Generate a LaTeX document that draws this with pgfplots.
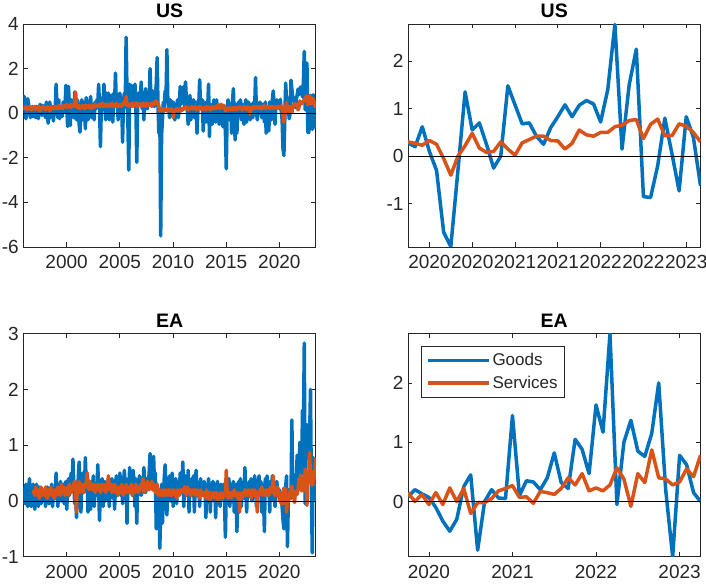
\documentclass[border=0pt]{standalone}
\usepackage{fontspec}
\setmainfont{Liberation Sans}
\usepackage{pgfplots}
\pgfplotsset{compat=1.18}
\definecolor{mblue}{rgb}{0,0.447,0.741}
\definecolor{morange}{rgb}{0.85,0.325,0.098}
\definecolor{axgray}{rgb}{0.15,0.15,0.15}
\pgfplotsset{
  panel/.style={
    scale only axis, width=292.5pt, height=223pt,
    axis line style={axgray, line width=0.7pt},
    tick style={axgray, line width=0.7pt},
    major tick length=4.5pt, tick align=inside,
    ticklabel style={font=\fontsize{19}{19}\selectfont, text=axgray},
    xticklabel style={yshift=-5pt},
    yticklabel style={xshift=-1pt},
    /pgf/number format/assume math mode=true,
    title style={font=\fontsize{19.5}{19.5}\bfseries\selectfont, yshift=-3.6pt},
    every axis plot/.append style={line width=3.5pt, line join=round},
  },
  gd/.style={mblue, line width=3.5pt},
  sv/.style={morange, line width=3.5pt},
  zl/.style={black, line width=0.8pt, forget plot},
}
\begin{document}
\begin{tikzpicture}
\useasboundingbox (0,0) rectangle (706pt,583pt);
% ---------------- US long ----------------
\begin{axis}[panel, at={(23.3pt,336pt)}, anchor=south west,
  title={US}, xmin=1995.93, xmax=2023.43, ymin=-6, ymax=4,
  xtick={2000,2005,2010,2015,2020}, xticklabels={2000,2005,2010,2015,2020},
  ytick={-6,-4,-2,0,2,4}, yticklabels={-6,-4,-2,0,2,4}]
\addplot[gd] table[row sep=\\, header=false, x expr=1995.93+\coordindex/12, y index=0] {
0.5\\0.75\\0.2\\-0.25\\0.3\\0.65\\0.4\\0.05\\-0.2\\0.1\\0.3\\-0.15\\
0.25\\0.1\\-0.2\\0.3\\0.15\\-0.25\\0.2\\0.4\\0.05\\-0.1\\0.35\\0.1\\
0.0\\-0.2\\0.5\\0.2\\-0.45\\0.3\\0.5\\-0.2\\0.1\\0.3\\-0.35\\0.2\\
0.15\\1.3\\0.4\\-0.2\\0.6\\-0.25\\0.3\\0.2\\-0.15\\0.5\\0.2\\0.05\\
1.25\\0.4\\-0.6\\1.2\\0.3\\-0.55\\0.6\\0.2\\0.1\\-0.2\\0.95\\0.3\\
-0.3\\0.6\\0.2\\-0.5\\-0.85\\0.2\\0.6\\-0.3\\0.1\\0.5\\-0.7\\0.7\\
0.3\\-0.3\\0.5\\0.2\\0.75\\-0.2\\0.3\\0.4\\-0.3\\0.5\\0.2\\0.6\\
0.4\\1.3\\0.3\\-1.5\\0.2\\0.7\\0.5\\1.3\\0.3\\-0.3\\0.9\\0.4\\
0.9\\-0.3\\0.5\\0.8\\0.2\\-0.4\\0.9\\0.5\\1.8\\0.3\\0.6\\-0.3\\
0.5\\0.9\\0.2\\0.6\\-1.3\\0.5\\0.9\\0.3\\3.4\\0.9\\-0.4\\-2.55\\
1.3\\0.4\\1.25\\0.3\\1.2\\0.5\\1.3\\0.4\\-2.2\\0.3\\0.9\\0.5\\
0.6\\1.4\\0.2\\0.9\\-0.3\\0.6\\1.1\\0.3\\0.2\\0.8\\0.4\\2.0\\
0.6\\0.3\\1.0\\0.4\\0.3\\0.8\\1.3\\2.5\\0.3\\-0.9\\0.2\\-5.5\\
-1.0\\-0.3\\0.5\\0.2\\1.0\\0.6\\2.85\\0.7\\0.3\\-0.2\\0.6\\0.3\\
0.2\\0.5\\0.4\\-0.3\\0.1\\0.2\\0.6\\-0.2\\0.3\\1.2\\0.4\\0.9\\
0.5\\1.2\\0.3\\1.4\\0.6\\0.2\\-0.5\\0.4\\0.8\\-0.3\\0.3\\0.5\\
0.6\\-0.2\\0.3\\0.5\\-0.9\\0.2\\0.4\\1.5\\0.2\\0.3\\0.6\\-0.8\\
0.5\\0.3\\-0.4\\0.5\\0.2\\1.3\\-1.05\\0.4\\0.3\\-0.5\\0.2\\0.6\\
0.3\\-0.4\\0.6\\0.2\\0.1\\-0.5\\0.3\\0.4\\0.0\\-0.6\\0.3\\-0.3\\
-0.8\\-2.5\\0.2\\0.6\\0.3\\-0.3\\0.4\\-0.9\\0.5\\1.1\\-0.2\\-1.2\\
0.4\\-0.9\\0.3\\0.5\\0.2\\0.6\\-0.3\\0.4\\0.2\\-0.5\\0.3\\0.6\\
-0.4\\0.3\\0.5\\0.2\\-0.3\\0.4\\0.3\\-0.2\\0.5\\0.2\\1.6\\0.1\\
-0.3\\0.4\\0.2\\0.5\\0.3\\-0.2\\0.4\\0.2\\-0.4\\0.5\\-0.9\\0.3\\
0.2\\-0.8\\0.5\\0.3\\-0.3\\0.6\\1.0\\0.2\\-0.5\\0.4\\0.6\\0.3\\
0.28\\0.2\\0.62\\0.1\\-0.3\\-1.6\\-1.9\\-0.3\\1.35\\0.55\\0.7\\0.25\\
-0.25\\0.0\\1.48\\1.08\\0.68\\0.7\\0.42\\0.25\\0.6\\0.83\\1.08\\0.83\\
1.07\\1.17\\1.1\\0.72\\1.4\\2.77\\0.15\\1.5\\2.25\\-0.85\\-0.87\\-0.2\\
0.8\\0.05\\-0.73\\0.83\\0.4\\-0.62\\-0.5\\
};
\addplot[sv] table[row sep=\\, header=false, x expr=1995.93+\coordindex/12, y index=0] {
0.3\\0.25\\0.2\\0.3\\0.15\\0.25\\0.2\\0.3\\0.2\\0.15\\0.25\\0.2\\
0.2\\0.3\\0.15\\0.25\\0.2\\0.3\\0.2\\0.1\\0.25\\0.2\\0.3\\0.2\\
0.25\\0.15\\0.2\\0.3\\0.2\\0.25\\0.1\\0.3\\0.2\\0.25\\0.2\\0.3\\
0.2\\0.3\\0.25\\0.2\\0.35\\0.2\\0.3\\0.25\\0.3\\0.2\\0.35\\0.3\\
0.3\\0.4\\0.25\\0.35\\0.3\\0.25\\0.4\\0.3\\0.35\\0.3\\0.4\\0.95\\
0.4\\0.25\\0.3\\0.35\\0.2\\0.3\\0.25\\0.35\\0.3\\0.2\\0.35\\0.3\\
0.25\\0.3\\0.35\\0.3\\0.2\\0.3\\0.35\\0.25\\0.3\\0.4\\0.3\\0.35\\
0.3\\0.35\\0.4\\0.3\\0.35\\0.45\\0.3\\0.35\\0.4\\0.3\\0.35\\0.4\\
0.35\\0.3\\0.4\\0.35\\0.45\\0.3\\0.35\\0.4\\0.3\\0.45\\0.35\\0.3\\
0.4\\0.35\\0.3\\0.4\\0.35\\0.45\\0.5\\0.4\\0.75\\0.35\\0.4\\0.3\\
0.4\\0.35\\0.45\\0.3\\0.4\\0.35\\0.45\\0.4\\0.3\\0.45\\0.35\\0.4\\
0.35\\0.4\\0.3\\0.45\\0.35\\0.4\\0.3\\0.4\\0.45\\0.35\\0.4\\0.35\\
0.4\\0.45\\0.35\\0.4\\0.5\\0.45\\0.55\\0.4\\0.45\\0.3\\0.1\\0.15\\
0.1\\0.2\\0.15\\0.1\\0.2\\0.15\\0.1\\0.2\\0.15\\0.1\\0.15\\0.2\\
0.1\\-0.2\\0.05\\0.15\\0.1\\0.2\\0.15\\0.1\\0.2\\0.15\\0.1\\0.2\\
0.15\\0.25\\0.2\\0.3\\0.2\\0.25\\0.15\\0.2\\0.25\\0.2\\0.3\\0.2\\
0.25\\0.2\\0.3\\0.2\\0.15\\0.25\\0.2\\0.3\\0.25\\0.2\\0.15\\0.25\\
0.2\\0.25\\0.15\\0.3\\0.2\\0.25\\0.2\\0.15\\0.25\\0.3\\0.2\\0.25\\
0.3\\0.2\\0.25\\0.35\\0.25\\0.3\\0.2\\0.4\\0.3\\0.25\\0.35\\0.3\\
0.1\\0.15\\0.2\\0.15\\0.25\\0.2\\0.15\\0.2\\0.25\\0.15\\0.2\\0.25\\
0.2\\0.15\\0.25\\0.2\\0.3\\0.25\\0.2\\0.15\\0.25\\0.3\\0.2\\0.25\\
0.15\\0.3\\0.2\\0.25\\-0.05\\0.2\\0.25\\0.2\\0.3\\0.25\\0.2\\0.3\\
0.25\\0.3\\0.2\\0.3\\0.25\\0.2\\0.3\\0.25\\0.35\\0.2\\0.3\\0.25\\
0.3\\0.25\\0.2\\0.3\\0.25\\0.3\\0.2\\0.3\\0.25\\0.3\\0.25\\0.3\\
0.3\\0.27\\0.23\\0.33\\0.25\\-0.05\\-0.4\\0.0\\0.22\\0.48\\0.17\\0.08\\
0.1\\0.3\\0.15\\0.02\\0.28\\0.35\\0.42\\0.42\\0.33\\0.32\\0.15\\0.27\\
0.55\\0.45\\0.42\\0.5\\0.5\\0.62\\0.65\\0.75\\0.77\\0.37\\0.67\\0.78\\
0.43\\0.43\\0.68\\0.63\\0.5\\0.3\\0.35\\
};
\addplot[zl] coordinates {(1995.93,0) (2023.43,0)};
\end{axis}
% ---------------- US short ----------------
\begin{axis}[panel, at={(408pt,336pt)}, anchor=south west,
  title={US}, xmin=2019.75, xmax=2023.1667, ymin=-1.91, ymax=2.78,
  xtick={2020,2020.5,2021,2021.5,2022,2022.5,2023},
  xticklabels={2020,2020,2021,2021,2022,2022,2023},
  ytick={-1,0,1,2}, yticklabels={-1,0,1,2}]
\addplot[gd] table[row sep=\\, header=false, x expr=2019.75+\coordindex/12, y index=0] {
0.28\\0.2\\0.62\\0.1\\-0.3\\-1.6\\-1.9\\-0.3\\1.35\\0.55\\0.7\\0.25\\
-0.25\\0.0\\1.48\\1.08\\0.68\\0.7\\0.42\\0.25\\0.6\\0.83\\1.08\\0.83\\
1.07\\1.17\\1.1\\0.72\\1.4\\2.77\\0.15\\1.5\\2.25\\-0.85\\-0.87\\-0.2\\
0.8\\0.05\\-0.73\\0.83\\0.4\\-0.62\\
};
\addplot[sv] table[row sep=\\, header=false, x expr=2019.75+\coordindex/12, y index=0] {
0.3\\0.27\\0.23\\0.33\\0.25\\-0.05\\-0.4\\0.0\\0.22\\0.48\\0.17\\0.08\\
0.1\\0.3\\0.15\\0.02\\0.28\\0.35\\0.42\\0.42\\0.33\\0.32\\0.15\\0.27\\
0.55\\0.45\\0.42\\0.5\\0.5\\0.62\\0.65\\0.75\\0.77\\0.37\\0.67\\0.78\\
0.43\\0.43\\0.68\\0.63\\0.5\\0.3\\
};
\addplot[zl] coordinates {(2019.75,0) (2023.1667,0)};
\end{axis}
% ---------------- EA long ----------------
\begin{axis}[panel, at={(23.3pt,26.3pt)}, anchor=south west,
  title={EA}, xmin=1995.93, xmax=2023.43, ymin=-1, ymax=3,
  xtick={2000,2005,2010,2015,2020}, xticklabels={2000,2005,2010,2015,2020},
  ytick={-1,0,1,2,3}, yticklabels={-1,0,1,2,3}]
\addplot[gd] table[row sep=\\, header=false, x expr=1995.93+\coordindex/12, y index=0] {
0.25\\0.1\\-0.05\\0.3\\0.15\\-0.1\\0.2\\0.4\\0.0\\-0.1\\0.15\\0.3\\
0.1\\-0.15\\0.2\\0.3\\0.05\\-0.1\\0.25\\0.15\\-0.05\\0.2\\0.1\\0.0\\
0.2\\-0.1\\0.15\\0.25\\0.05\\-0.05\\0.2\\0.1\\0.3\\-0.1\\0.15\\0.2\\
0.05\\0.5\\0.1\\-0.1\\0.25\\0.15\\0.35\\0.0\\0.2\\0.3\\-0.05\\0.15\\
0.35\\-0.15\\0.2\\0.4\\0.1\\0.3\\0.5\\0.2\\0.75\\0.3\\-0.05\\0.2\\
-0.3\\0.25\\0.4\\0.7\\0.1\\-0.2\\0.3\\0.5\\0.15\\0.2\\0.78\\0.3\\
0.5\\-0.2\\0.3\\0.1\\-0.15\\0.35\\0.2\\0.45\\-0.1\\0.25\\0.3\\0.1\\
0.65\\0.2\\-0.35\\0.3\\0.1\\0.4\\-0.1\\0.2\\0.35\\0.0\\0.3\\0.15\\
0.4\\-0.1\\0.3\\0.2\\0.4\\0.05\\0.35\\-0.15\\0.3\\0.45\\0.1\\0.3\\
0.2\\0.5\\0.1\\0.35\\-0.05\\0.3\\0.55\\0.2\\0.4\\-0.4\\0.3\\0.15\\
0.6\\0.2\\0.35\\0.1\\0.55\\0.3\\-0.1\\0.4\\-0.4\\0.3\\0.2\\0.45\\
0.3\\0.1\\0.4\\0.2\\0.6\\0.35\\0.15\\0.4\\0.2\\0.3\\0.5\\0.85\\
0.4\\0.6\\0.2\\0.8\\0.3\\0.5\\-0.5\\0.2\\-0.3\\0.1\\-0.85\\-0.2\\
0.3\\-0.4\\0.1\\0.4\\0.65\\0.2\\-0.25\\0.3\\0.1\\0.45\\0.0\\0.2\\
0.5\\-0.1\\0.3\\0.15\\0.4\\-0.05\\0.25\\0.35\\0.1\\0.5\\0.2\\0.3\\
0.7\\-0.1\\0.3\\0.45\\0.2\\0.1\\0.55\\-0.2\\0.3\\0.2\\0.4\\0.1\\
0.45\\-0.2\\0.3\\0.55\\0.1\\0.3\\0.2\\-0.1\\0.4\\0.15\\0.3\\0.1\\
0.35\\0.2\\-0.3\\0.3\\0.1\\0.4\\0.2\\-0.2\\0.3\\0.15\\0.35\\0.0\\
0.3\\-0.3\\0.2\\0.35\\0.1\\0.2\\-0.1\\0.3\\0.15\\0.2\\0.3\\0.0\\
-0.65\\0.2\\0.3\\0.1\\0.4\\-0.1\\0.2\\0.3\\0.1\\0.35\\-0.2\\0.2\\
0.3\\-0.55\\0.2\\0.35\\0.1\\0.4\\-0.1\\0.25\\0.3\\0.05\\0.6\\0.2\\
-0.2\\0.3\\0.1\\0.35\\0.2\\0.4\\0.0\\0.3\\0.15\\0.45\\0.2\\-0.1\\
0.2\\0.3\\0.45\\0.1\\0.35\\-0.2\\0.3\\0.1\\-0.55\\0.4\\0.2\\0.45\\
0.1\\0.3\\-0.2\\0.35\\0.2\\0.45\\0.0\\0.3\\-0.1\\0.25\\0.35\\0.15\\
0.08\\0.2\\0.13\\0.07\\-0.1\\-0.33\\-0.5\\-0.3\\0.25\\0.45\\-0.82\\0.0\\
0.2\\0.06\\0.05\\1.45\\0.1\\0.35\\0.33\\0.2\\0.4\\0.82\\0.32\\0.22\\
1.05\\0.88\\0.47\\1.63\\1.17\\2.83\\-0.05\\1.0\\1.37\\0.85\\0.76\\1.15\\
2.0\\0.2\\-0.93\\0.78\\0.62\\0.15\\0.0\\
};
\addplot[sv] table[row sep=\\, header=false, x expr=1995.93+(\coordindex+11)/12, y index=0] {
0.2\\
0.15\\0.1\\0.25\\0.2\\0.1\\0.15\\0.05\\0.2\\0.25\\0.1\\0.15\\0.2\\
0.1\\0.25\\0.15\\0.05\\0.2\\0.1\\0.15\\0.25\\0.1\\0.2\\0.15\\0.05\\
0.2\\0.15\\0.1\\0.25\\0.15\\0.2\\0.1\\0.3\\0.15\\0.2\\0.25\\0.1\\
0.2\\0.15\\0.25\\0.1\\0.3\\0.2\\0.15\\0.25\\0.2\\0.3\\0.35\\0.2\\
-0.2\\0.3\\0.2\\0.35\\0.15\\0.25\\0.3\\0.2\\0.15\\0.3\\0.25\\0.35\\
0.5\\0.3\\0.2\\0.35\\0.25\\0.3\\0.2\\0.25\\0.3\\0.15\\0.25\\0.2\\
0.3\\0.2\\0.25\\0.15\\0.3\\0.2\\0.25\\0.3\\0.2\\0.15\\0.25\\0.2\\
0.45\\0.25\\0.2\\0.3\\0.15\\0.25\\0.2\\0.3\\0.15\\0.2\\0.25\\0.1\\
0.2\\0.25\\0.15\\0.3\\0.2\\0.1\\0.25\\0.2\\0.3\\0.15\\0.2\\0.25\\
0.15\\0.2\\0.3\\0.1\\0.25\\0.2\\0.15\\0.3\\0.2\\0.25\\0.15\\0.2\\
0.25\\0.3\\0.2\\0.4\\0.15\\0.25\\0.3\\0.2\\0.35\\0.25\\0.2\\0.3\\
0.25\\0.35\\0.2\\0.3\\0.25\\0.15\\0.2\\0.3\\0.1\\0.15\\0.2\\0.1\\
0.15\\0.1\\0.2\\0.15\\0.1\\0.2\\0.15\\0.1\\0.2\\0.15\\0.1\\0.2\\
0.1\\0.15\\0.2\\0.1\\0.15\\0.05\\0.2\\0.15\\0.1\\0.2\\0.15\\0.2\\
0.2\\0.15\\0.25\\0.2\\0.1\\0.25\\0.2\\0.15\\0.2\\0.1\\0.15\\0.2\\
0.15\\0.2\\0.1\\0.15\\0.2\\0.1\\0.15\\0.05\\0.2\\0.15\\0.1\\0.15\\
0.1\\0.15\\0.05\\0.2\\0.1\\0.15\\0.0\\0.1\\0.15\\0.05\\0.1\\0.15\\
0.1\\0.05\\0.15\\0.1\\0.0\\0.1\\0.05\\0.15\\0.1\\0.05\\0.1\\0.15\\
0.1\\0.55\\0.15\\0.05\\0.1\\0.15\\0.1\\0.05\\0.15\\0.1\\0.2\\0.1\\
0.15\\0.1\\0.05\\0.15\\-0.2\\0.1\\0.15\\0.05\\0.1\\0.15\\0.2\\0.1\\
0.15\\0.1\\0.2\\0.15\\0.1\\0.05\\0.2\\0.15\\0.1\\0.2\\0.15\\0.1\\
-0.2\\0.15\\0.1\\0.2\\0.15\\0.25\\0.1\\0.2\\0.15\\0.1\\0.2\\0.15\\
0.2\\0.1\\0.15\\0.25\\0.2\\0.15\\0.45\\0.2\\0.1\\0.15\\0.1\\0.25\\
0.15\\0.0\\0.12\\-0.05\\0.15\\-0.05\\0.23\\0.0\\0.22\\-0.2\\-0.02\\-0.02\\
0.05\\0.18\\0.22\\0.27\\0.07\\0.08\\-0.03\\0.17\\0.15\\0.12\\0.22\\0.4\\
0.28\\0.47\\0.18\\0.23\\0.18\\0.28\\0.57\\0.38\\-0.08\\0.47\\0.32\\0.87\\
0.4\\0.38\\0.28\\0.33\\0.55\\0.42\\0.78\\
};
\addplot[zl] coordinates {(1995.93,0) (2023.43,0)};
\end{axis}
% ---------------- EA short ----------------
\begin{axis}[panel, at={(408pt,26.3pt)}, anchor=south west,
  title={EA}, xmin=2019.75, xmax=2023.25, ymin=-0.93, ymax=2.83,
  xtick={2020,2021,2022,2023}, xticklabels={2020,2021,2022,2023},
  ytick={0,1,2}, yticklabels={0,1,2},
  legend style={at={(0.0455,0.945)}, anchor=north west, draw=axgray, line width=0.6pt,
    font=\fontsize{17}{17}\selectfont, text=axgray, inner xsep=4.7pt, inner ysep=5pt,
    row sep=5pt, column sep=0pt},
  legend cell align=left,
  legend image code/.code={\draw[#1, line width=3.2pt] (0pt,0pt) -- (61pt,0pt);}]
\addplot[gd] table[row sep=\\, header=false, x expr=2019.75+\coordindex/12, y index=0] {
0.08\\0.2\\0.13\\0.07\\-0.1\\-0.33\\-0.5\\-0.3\\0.25\\0.45\\-0.82\\0.0\\
0.2\\0.06\\0.05\\1.45\\0.1\\0.35\\0.33\\0.2\\0.4\\0.82\\0.32\\0.22\\
1.05\\0.88\\0.47\\1.63\\1.17\\2.83\\-0.05\\1.0\\1.37\\0.85\\0.76\\1.15\\
2.0\\0.2\\-0.93\\0.78\\0.62\\0.15\\0.0\\
};
\addlegendentry{Goods}
\addplot[sv] table[row sep=\\, header=false, x expr=2019.75+\coordindex/12, y index=0] {
0.15\\0.0\\0.12\\-0.05\\0.15\\-0.05\\0.23\\0.0\\0.22\\-0.2\\-0.02\\-0.02\\
0.05\\0.18\\0.22\\0.27\\0.07\\0.08\\-0.03\\0.17\\0.15\\0.12\\0.22\\0.4\\
0.28\\0.47\\0.18\\0.23\\0.18\\0.28\\0.57\\0.38\\-0.08\\0.47\\0.32\\0.87\\
0.4\\0.38\\0.28\\0.33\\0.55\\0.42\\0.78\\
};
\addlegendentry{Services}
\addplot[zl] coordinates {(2019.75,0) (2023.25,0)};
\end{axis}
\end{tikzpicture}
\end{document}
